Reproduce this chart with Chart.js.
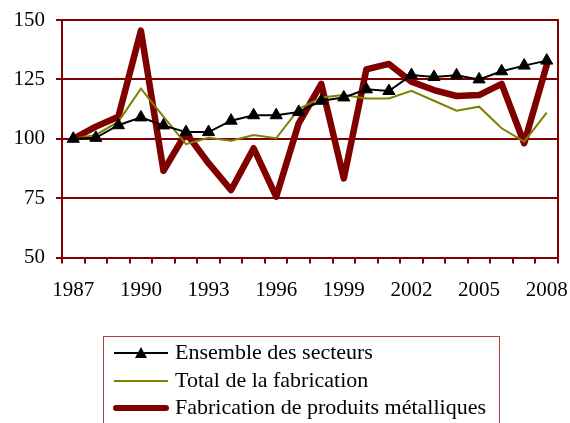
<!DOCTYPE html>
<html>
<head>
<meta charset="utf-8">
<script src="https://cdn.jsdelivr.net/npm/chart.js@4/dist/chart.umd.min.js"></script>
<style>
html,body{margin:0;padding:0;background:#fff;}
#wrap{width:570px;height:423px;position:relative;}
</style>
</head>
<body>
<div id="wrap"><canvas id="c" width="570" height="423"></canvas></div>
<script>
const years = [1987,1988,1989,1990,1991,1992,1993,1994,1995,1996,1997,1998,1999,2000,2001,2002,2003,2004,2005,2006,2007,2008];
const ensembleSecteurs = [100,100.4,105.7,109.0,105.6,102.8,102.8,107.6,109.9,109.9,111.3,116.0,117.4,120.8,120.1,126.8,126.0,126.7,125.0,128.4,130.8,132.9];
const totalFabrication = [100,101.6,107.2,121.1,109.3,97.7,100.4,99.2,101.6,100.2,112.5,117.4,118.4,117.0,117.0,120.2,116.0,111.8,113.5,104.4,98.8,111.0];
const produitsMetalliques = [100,105.1,109.3,145.5,86.5,102.5,89.7,78.4,96.0,75.6,106.5,123.1,83.3,129.2,131.5,124.0,120.5,118.0,118.4,123.1,98.1,131.0];
const seriesNames = ["Ensemble des secteurs","Total de la fabrication","Fabrication de produits métalliques"];
const yTicks = [50,75,100,125,150];

const DARK = '#800000';
const OLIVE = '#808000';
const FONT = "'Liberation Serif','Times New Roman',serif";

const frame = {
  id:'frame',
  afterDatasetsDraw(chart){
    const {ctx, chartArea:a} = chart;
    ctx.save();
    ctx.strokeStyle = DARK; ctx.lineWidth = 2;
    ctx.beginPath(); ctx.moveTo(a.right, a.top-1); ctx.lineTo(a.right, a.bottom+1); ctx.stroke();
    ctx.restore();
  },
  afterDraw(chart){
    const ctx = chart.ctx;
    ctx.save();
    ctx.strokeStyle = '#b04040'; ctx.lineWidth = 1;
    ctx.strokeRect(103.5, 336.5, 396, 100);
    const rows = [353, 381, 408];
    const x0 = 114, x1 = 168;
    ctx.strokeStyle = '#000'; ctx.lineWidth = 2;
    ctx.beginPath(); ctx.moveTo(x0, rows[0]); ctx.lineTo(x1, rows[0]); ctx.stroke();
    ctx.fillStyle = '#000';
    const mx = (x0+x1)/2;
    ctx.beginPath(); ctx.moveTo(mx, rows[0]-6); ctx.lineTo(mx+6, rows[0]+5); ctx.lineTo(mx-6, rows[0]+5); ctx.closePath(); ctx.fill();
    ctx.strokeStyle = OLIVE; ctx.lineWidth = 2;
    ctx.beginPath(); ctx.moveTo(x0, rows[1]); ctx.lineTo(x1, rows[1]); ctx.stroke();
    ctx.strokeStyle = DARK; ctx.lineWidth = 6; ctx.lineCap = 'round';
    ctx.beginPath(); ctx.moveTo(x0+2, rows[2]); ctx.lineTo(x1-2, rows[2]); ctx.stroke();
    ctx.fillStyle = '#000';
    ctx.font = "22px " + FONT;
    ctx.textBaseline = 'middle'; ctx.textAlign = 'left';
    seriesNames.forEach((n,i)=>ctx.fillText(n, 175, rows[i]));
    ctx.restore();
  }
};

new Chart(document.getElementById('c'), {
  type:'line',
  data:{
    labels: years.map(String),
    datasets:[
      {label:seriesNames[0], data:ensembleSecteurs, borderColor:'#000', backgroundColor:'#000', borderWidth:2,
       pointStyle:'triangle', pointRadius:7, pointHoverRadius:7, pointBackgroundColor:'#000', pointBorderColor:'#000', pointBorderWidth:1, tension:0},
      {label:seriesNames[1], data:totalFabrication, borderColor:OLIVE, borderWidth:2, pointRadius:0, tension:0},
      {label:seriesNames[2], data:produitsMetalliques, borderColor:DARK, borderWidth:6.5, pointRadius:0, tension:0,
       borderJoinStyle:'round', borderCapStyle:'round'}
    ]
  },
  options:{
    responsive:false,
    animation:false,
    devicePixelRatio:1,
    layout:{padding:{top:20,right:12,left:0,bottom:0}},
    plugins:{legend:{display:false}, tooltip:{enabled:false}},
    scales:{
      x:{
        offset:true,
        grid:{offset:true, drawOnChartArea:false, color:DARK, lineWidth:2, tickLength:6},
        border:{color:DARK, width:2},
        ticks:{autoSkip:false, maxRotation:0, minRotation:0, padding:14, color:'#000',
          font:{family:FONT, size:21},
          callback:(v,i)=> (i%3===0 ? years[i] : '')},
        afterFit:(s)=>{ s.height = 165.5; s.paddingLeft = 0; s.paddingRight = 0; }
      },
      y:{
        min:50, max:150,
        afterBuildTicks:(s)=>{ s.ticks = yTicks.map(v=>({value:v})); },
        grid:{color:DARK, lineWidth:2, tickLength:6},
        border:{color:DARK, width:2},
        ticks:{padding:11, color:'#000', font:{family:FONT, size:21}},
        afterFit:(s)=>{ s.width = 62; s.paddingTop = 0; s.paddingBottom = 0; }
      }
    }
  },
  plugins:[frame]
});
</script>
</body>
</html>
